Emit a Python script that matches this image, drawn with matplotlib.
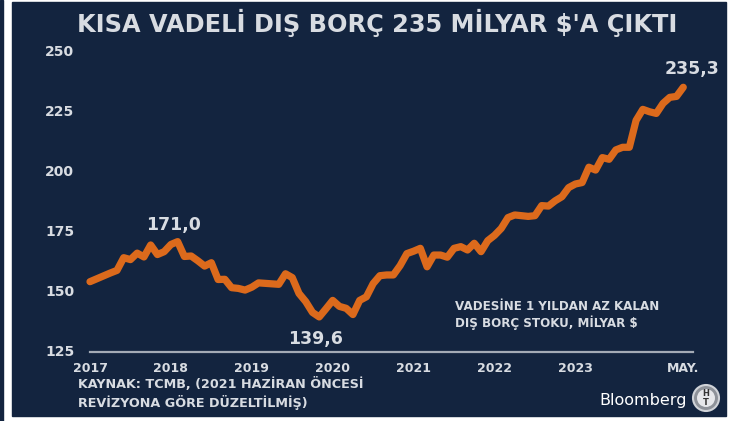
import numpy as np
import matplotlib
matplotlib.use("Agg")
import matplotlib.pyplot as plt
import matplotlib.transforms as mtransforms
from matplotlib.patches import Rectangle, Circle

# monthly short-term external debt stock, Jan 2017 - May 2024 (bn $)
debt = [154.3, 155.5, 156.7, 157.9, 159.0, 164.3, 163.5, 166.2, 164.6, 169.6, 165.6, 166.8,
        169.8, 171.0, 164.8, 165.0, 163.0, 160.8, 162.2, 155.2, 155.3, 151.8, 151.5, 150.8,
        152.0, 153.8, 153.6, 153.4, 153.2, 157.6, 156.0, 149.4, 146.0, 141.5, 139.6, 143.0,
        146.5, 144.0, 143.2, 140.6, 146.5, 148.0, 153.5, 156.8, 157.1, 157.1, 161.0, 166.0,
        167.0, 168.2, 160.5, 165.4, 165.4, 164.5, 168.2, 168.9, 167.5, 170.3, 166.8, 171.4,
        173.6, 176.5, 181.0, 182.1, 181.8, 181.5, 181.8, 186.0, 185.8, 188.0, 189.7, 193.5,
        195.0, 195.6, 202.0, 200.8, 206.0, 205.3, 209.2, 210.3, 210.3, 221.5, 226.1, 225.1,
        224.4, 228.6, 231.1, 231.5, 235.3]
t = 2017 + np.arange(len(debt)) / 12

yticks = [125, 150, 175, 200, 225, 250]
xtick_pos = [2017, 2018, 2019, 2020, 2021, 2022, 2023, 2024 + 4 / 12]
xtick_labels = ["2017", "2018", "2019", "2020", "2021", "2022", "2023", "MAY."]
# label, x, y, offset (pt)
annots = [("171,0", 2018 + 1 / 12, 171.0, (-3, 12)), ("139,6", 2019 + 10 / 12, 139.6, (-3, -16)),
          ("235,3", 2024 + 4 / 12, 235.3, (6, 13))]

BG = "#13243f"
TXT = "#d8dce2"
ORANGE = "#dc6a1c"

W, H = 734, 421
fig = plt.figure(figsize=(W / 100, H / 100), dpi=100)
fig.patch.set_facecolor("white")
# dark panel + left strip
fig.patches.append(Rectangle((12 / W, 5 / H), (726 - 12) / W, (419 - 5) / H,
                             transform=fig.transFigure, color=BG, zorder=-10))
fig.patches.append(Rectangle((0, 0), 3 / W, 1, transform=fig.transFigure, color=BG, zorder=-10))

ax = fig.add_axes([90 / W, (H - 352) / H, (693 - 90) / W, 300 / H])
ax.set_zorder(1)
ax.set_facecolor("none")
ax.set_xlim(2017, 2017 + (693 - 90) / 80.9)
ax.set_ylim(125, 250)
for s in ax.spines.values():
    s.set_visible(False)
ax.tick_params(length=0)
ax.set_yticks([])
ax.set_xticks(xtick_pos)
ax.set_xticklabels(xtick_labels, color=TXT, fontsize=9, fontweight="bold")
ax.tick_params(axis="x", pad=7)

ax.axhline(125, color="#a4abb6", lw=1.6, zorder=1, clip_on=False)
ax.plot(t, debt, color=ORANGE, lw=5.2, solid_joinstyle="round", solid_capstyle="round",
        clip_on=False, zorder=3)

# y tick labels, left aligned
tr = mtransforms.blended_transform_factory(fig.transFigure, ax.transData)
for v in yticks:
    ax.text(45 / W, v, str(v), transform=tr, ha="left", va="center",
            color=TXT, fontsize=10, fontweight="bold")

for lab, x, y, off in annots:
    ax.annotate(lab, (x, y), xytext=off, textcoords="offset points",
                ha="center", va="center", color=TXT, fontsize=12.5, fontweight="bold")

ax.text(455 / W, (H - 300) / H, "VADESİNE 1 YILDAN AZ KALAN\nDIŞ BORÇ STOKU, MİLYAR $",
        transform=fig.transFigure, ha="left", va="top", color=TXT, fontsize=8.6,
        fontweight="bold", linespacing=1.25)

fig.text(377 / W, (H - 23) / H, "KISA VADELİ DIŞ BORÇ 235 MİLYAR $'A ÇIKTI",
         ha="center", va="center", color=TXT, fontsize=17.3, fontweight="bold")
fig.text(78 / W, (H - 377) / H, "KAYNAK: TCMB, (2021 HAZİRAN ÖNCESİ\nREVİZYONA GÖRE DÜZELTİLMİŞ)",
         ha="left", va="top", color=TXT, fontsize=9.2, fontweight="bold", linespacing=1.3)
fig.text(687 / W, (H - 400) / H, "Bloomberg", ha="right", va="center", color="white",
         fontsize=11.5)

# HT logo
cx, cy = 706, H - 398
fig.patches.append(Circle((cx / 100, cy / 100), 0.13, transform=fig.dpi_scale_trans,
                          facecolor="#8e9299", edgecolor="#d0d3d8", lw=1.5, zorder=2))
fig.patches.append(Circle((cx / 100, cy / 100), 0.09, transform=fig.dpi_scale_trans,
                          facecolor="#e6e7ea", edgecolor="none", zorder=2))
fig.text(cx / W, cy / H, "H\nT", ha="center", va="center", color="#333", fontsize=6,
         fontweight="bold", linespacing=0.9, zorder=3)

fig.savefig("out.png", dpi=100, facecolor=fig.get_facecolor())
